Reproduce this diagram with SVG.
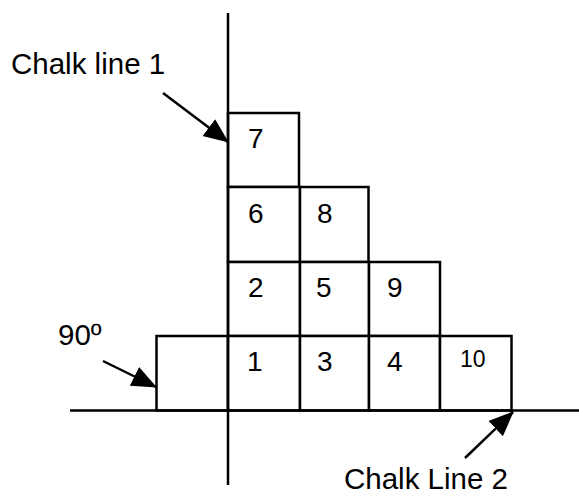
<svg xmlns="http://www.w3.org/2000/svg" width="579" height="496" viewBox="0 0 579 496">
<style>
.box{fill:#fff;stroke:#000;stroke-width:2.5}
.ln{stroke:#000;stroke-width:2.5;fill:none}
.arr{stroke:#000;stroke-width:2.5;fill:none;marker-end:url(#ah)}
.lbl{font-family:"Liberation Sans",Arial,sans-serif;font-size:29.5px;fill:#000}
.num{font-family:"Liberation Sans",Arial,sans-serif;font-size:28px;fill:#000}
.sm{font-size:23px}
</style>
<defs>
<marker id="ah" markerUnits="userSpaceOnUse" markerWidth="26" markerHeight="24" viewBox="0 0 26 24" refX="24" refY="12" orient="auto">
<path d="M0,1.5 L25,12 L0,22.5 z" fill="#000"/>
</marker>
</defs>
<rect width="579" height="496" fill="#fff"/>
<g id="b90"><rect class="box" x="156.5" y="336" width="71.5" height="74.5"/></g>
<g id="b7"><rect class="box" x="228" y="113" width="71" height="74"/><text class="num" x="248" y="148">7</text></g>
<g id="b6"><rect class="box" x="228" y="187" width="72" height="75"/><text class="num" x="248" y="223">6</text></g>
<g id="b8"><rect class="box" x="300" y="187" width="68.5" height="75"/><text class="num" x="317" y="223">8</text></g>
<g id="b2"><rect class="box" x="228" y="262" width="72" height="74"/><text class="num" x="248" y="297">2</text></g>
<g id="b5"><rect class="box" x="300" y="262" width="69" height="74"/><text class="num" x="316" y="297">5</text></g>
<g id="b9"><rect class="box" x="369" y="262" width="71" height="74"/><text class="num" x="387" y="297">9</text></g>
<g id="b1"><rect class="box" x="228" y="336" width="72" height="74.5"/><text class="num" x="247" y="371">1</text></g>
<g id="b3"><rect class="box" x="300" y="336" width="69" height="74.5"/><text class="num" x="317" y="371">3</text></g>
<g id="b4"><rect class="box" x="369" y="336" width="71" height="74.5"/><text class="num" x="387" y="371">4</text></g>
<g id="b10"><rect class="box" x="440" y="336" width="71.5" height="74.5"/><text class="num sm" x="460" y="367">10</text></g>
<g id="connectors">
<line class="ln" x1="228" y1="13" x2="228" y2="485"/>
<line class="ln" x1="70" y1="410.5" x2="579" y2="410.5"/>
<line class="arr" x1="163" y1="93" x2="228" y2="142"/>
<line class="arr" x1="103" y1="361" x2="156" y2="387"/>
<line class="arr" x1="465" y1="458" x2="513" y2="412"/>
</g>
<g id="labels">
<text class="lbl" x="11" y="74">Chalk line 1</text>
<text class="lbl" x="58" y="345">90º</text>
<text class="lbl" x="344" y="489">Chalk Line 2</text>
</g>
</svg>
